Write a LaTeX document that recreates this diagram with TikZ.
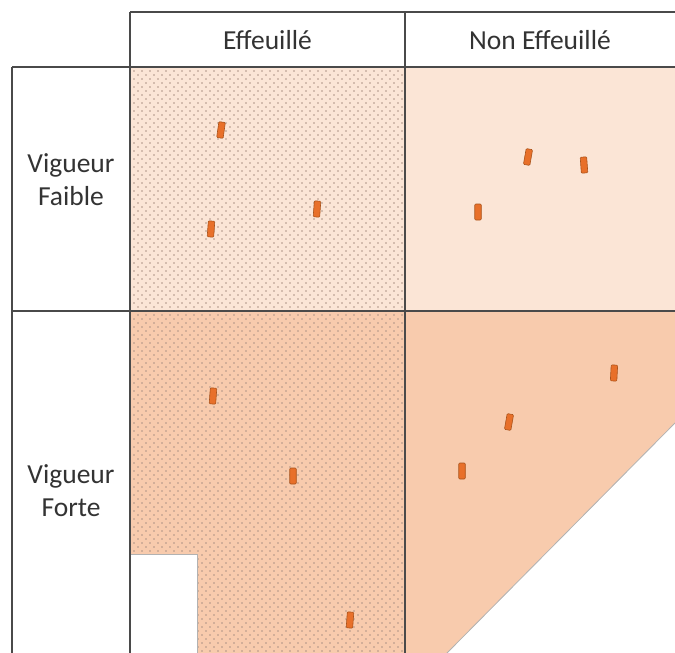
\documentclass[tikz,border=0pt]{standalone}
\usepackage{fontspec}
\setmainfont{Carlito}
\usetikzlibrary{patterns}

\definecolor{peachlight}{HTML}{FBE5D6}
\definecolor{peachdark}{HTML}{F8CBAD}
\definecolor{budorange}{HTML}{E8702A}
\definecolor{budedge}{HTML}{A9521A}
\definecolor{gridgray}{HTML}{4A4A4A}
\definecolor{dotgray}{HTML}{AE9486}
\definecolor{labelgray}{HTML}{333333}

\pgfdeclarepatternformonly{sparse dots}{\pgfqpoint{-1pt}{-1pt}}{\pgfqpoint{9pt}{9pt}}{\pgfqpoint{8pt}{8pt}}{
  \pgfpathcircle{\pgfqpoint{2pt}{2pt}}{0.85pt}
  \pgfpathcircle{\pgfqpoint{6pt}{6pt}}{0.85pt}
  \pgfusepath{fill}}

\def\colA{130}
\def\colB{405}

\begin{document}
\begin{tikzpicture}[x=1pt,y=-1pt,line width=1.7pt,draw=gridgray]
    \tikzstyle{bud}=[draw=budedge,line width=0.6pt,fill=budorange,minimum width=6.5pt,minimum height=16pt,inner sep=0pt,rounded corners=1pt]
    \tikzstyle{header}=[font=\fontsize{27.5}{33}\selectfont,text=labelgray,align=center]
    \tikzstyle{dotted cell}=[postaction={pattern=sparse dots,pattern color=dotgray}]

    \useasboundingbox (0,0) rectangle (675,653);

    % Fill the four cells
    \fill[peachlight,dotted cell] (\colA,67) rectangle (\colB,311);
    \fill[peachlight] (\colB,67) rectangle (675,311);
    \fill[peachdark,dotted cell] (\colA,311) rectangle (\colB,653);
    \fill[peachdark] (\colB,311) -- (675,311) -- (675,423) -- (447,653) -- (\colB,653) -- cycle;

    % Cut-outs
    \filldraw[fill=white,draw=black!30,line width=0.8pt] (\colA,653) |- (197,554) -- (197,653);
    \draw[black!30,line width=0.8pt] (675,423) -- (447,653);

    % Draw the grid
    \draw (\colA,12) -- (675,12);
    \draw (12,67) -- (675,67);
    \draw (12,311) -- (675,311);
    \draw (12,67) -- (12,653);
    \draw (\colA,12) -- (\colA,653);
    \draw (\colB,12) -- (\colB,653);

    % Column and row headings
    \node[header] (eff) at (267.5,40) {Effeuillé};
    \node[header] (noneff) at (540,40) {Non Effeuillé};
    \node[header] (faible) at (71,180) {Vigueur\\Faible};
    \node[header] (forte) at (71,491) {Vigueur\\Forte};

    % Buds, effeuille / faible
    \node[bud,rotate=-8] (b-1) at (221,130) {};
    \node[bud,rotate=-4] (b-2) at (317,209) {};
    \node[bud,rotate=-4] (b-3) at (211,229) {};

    % Buds, non effeuille / faible
    \node[bud,rotate=-10] (b-4) at (528,157) {};
    \node[bud,rotate=4] (b-5) at (584,165) {};
    \node[bud] (b-6) at (478,212) {};

    % Buds, effeuille / forte
    \node[bud,rotate=-4] (b-7) at (213,396) {};
    \node[bud] (b-8) at (293,476) {};
    \node[bud,rotate=-4] (b-9) at (350,620) {};

    % Buds, non effeuille / forte
    \node[bud,rotate=-3] (b-10) at (614,373) {};
    \node[bud,rotate=-10] (b-11) at (509,422) {};
    \node[bud] (b-12) at (462,471) {};
\end{tikzpicture}
\end{document}
